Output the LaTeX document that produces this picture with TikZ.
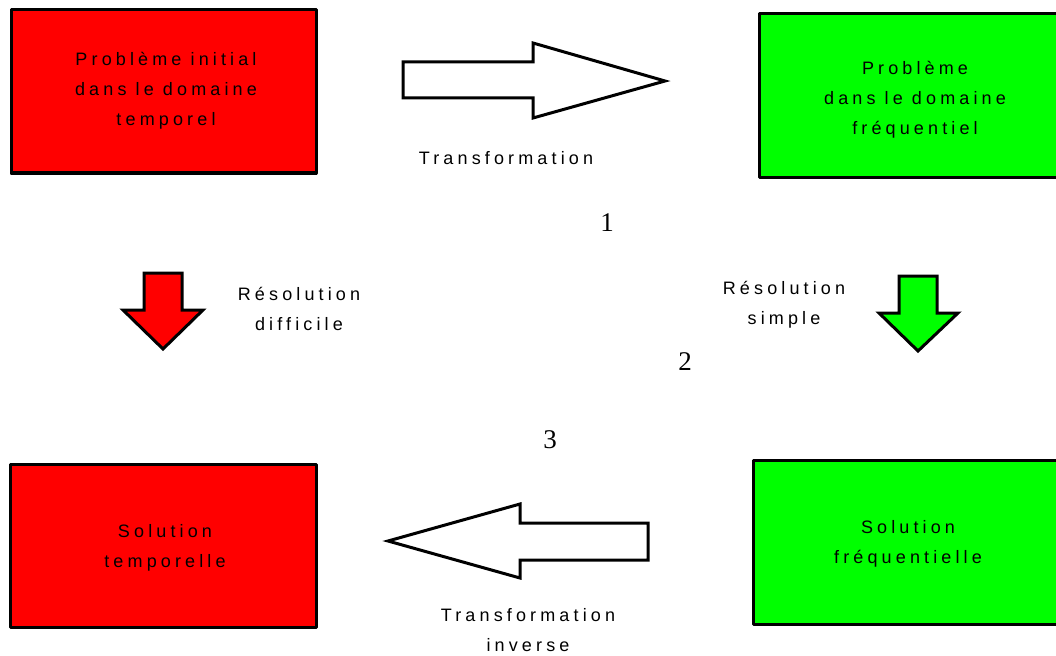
\documentclass[tikz,border=0pt]{standalone}
\usepackage{fontspec}
\setmainfont{Liberation Serif}
\newfontfamily\spacedsans[LetterSpace=23]{Liberation Sans}
\definecolor{boxred}{RGB}{255,0,0}
\definecolor{boxgreen}{RGB}{0,255,0}
\begin{document}
\begin{tikzpicture}[x=1pt,y=-1pt,
  blockbox/.style={draw=black,line width=3pt,line join=round},
  blocktext/.style={font=\spacedsans\fontsize{18}{30}\selectfont,align=center,inner sep=0pt,text=black},
  bigarrow/.style={draw=black,line width=3pt,line join=miter},
  numlabel/.style={font=\fontsize{27}{28}\selectfont,inner sep=0pt}]
\useasboundingbox (0,0) rectangle (1056,655);
% boxes
\draw[blockbox,fill=boxred] (11,10) rectangle (316,173);
\draw[blockbox,fill=boxgreen] (759,14) rectangle (1066,177);
\draw[blockbox,fill=boxred] (10,464) rectangle (316,627);
\draw[blockbox,fill=boxgreen] (753,460) rectangle (1062,624);
\node[blocktext] (p1) at (166,91) {Problème initial\\dans le domaine\\temporel};
\node[blocktext] (p2) at (915,100) {Problème\\dans le domaine\\fréquentiel};
\node[blocktext] (s1) at (165,548) {Solution\\temporelle};
\node[blocktext] (s2) at (908,544) {Solution\\fréquentielle};
% top arrow
\draw[bigarrow,fill=white] (403,62) -- (533,62) -- (533,43) -- (665,81) -- (533,118) -- (533,98) -- (403,98) -- cycle;
\node[blocktext] (t1) at (506,158) {Transformation};
% bottom arrow
\draw[bigarrow,fill=white] (648,523) -- (520,523) -- (520,504) -- (388,541) -- (520,578) -- (520,560) -- (648,560) -- cycle;
\node[blocktext] (t2) at (528,630) {Transformation\\inverse};
% left down arrow
\draw[bigarrow,fill=boxred] (144,273) -- (182,273) -- (182,310) -- (203,310) -- (163,349) -- (123,310) -- (144,310) -- cycle;
\node[blocktext] (r1) at (299,309) {Résolution\\difficile};
% right down arrow
\draw[bigarrow,fill=boxgreen] (899,276) -- (937,276) -- (937,313) -- (958,313) -- (918,351) -- (879,313) -- (899,313) -- cycle;
\node[blocktext] (r2) at (784,305) {Résolution\\simple};
% numbers
\node[numlabel] (n1) at (607,223) {1};
\node[numlabel] (n2) at (685,362) {2};
\node[numlabel] (n3) at (550,440) {3};
\end{tikzpicture}
\end{document}
